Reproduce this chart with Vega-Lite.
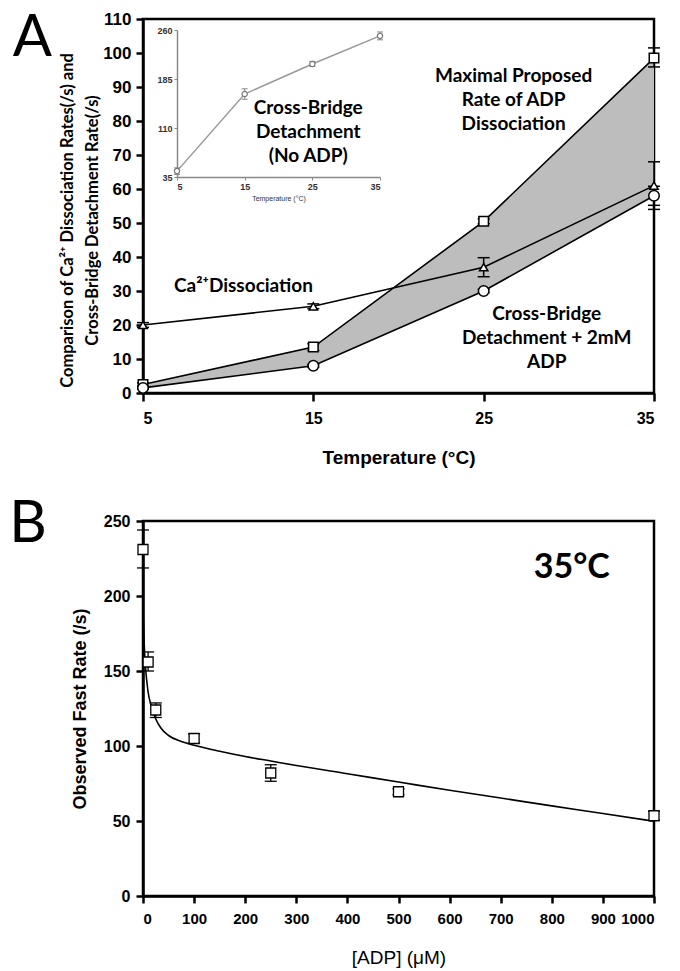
{
  "$schema": "https://vega.github.io/schema/vega-lite/v6.json",
  "padding": {"left": 8, "top": 8, "right": 5, "bottom": 5},
  "background": "white",
  "config": {
    "font": "Liberation Sans",
    "view": {"stroke": "black", "strokeWidth": 2.5},
    "axis": {
      "grid": false,
      "domainColor": "black",
      "domainWidth": 2.5,
      "tickColor": "black",
      "tickWidth": 2.5,
      "labelColor": "black",
      "titleColor": "black",
      "labelFont": "Liberation Sans",
      "labelFontWeight": "bold",
      "titleFont": "Liberation Sans"
    }
  },
  "datasets": {
    "a": [
      {"series": "ca", "t": 5, "v": 20, "lo": 19.3, "hi": 20.7},
      {"series": "ca", "t": 15, "v": 25.5, "lo": 24.8, "hi": 26.2},
      {"series": "ca", "t": 25, "v": 37, "lo": 34.2, "hi": 39.8},
      {"series": "ca", "t": 35, "v": 61, "lo": 54, "hi": 68},
      {"series": "max", "t": 5, "v": 2.5, "lo": 2, "hi": 3},
      {"series": "max", "t": 15, "v": 13.5, "lo": 12.5, "hi": 14.5},
      {"series": "max", "t": 25, "v": 50.5, "lo": 49.8, "hi": 51.2},
      {"series": "max", "t": 35, "v": 98.5, "lo": 95.9, "hi": 101.5},
      {"series": "cb", "t": 5, "v": 1.5, "lo": 1.2, "hi": 1.8},
      {"series": "cb", "t": 15, "v": 8, "lo": 7.6, "hi": 8.4},
      {"series": "cb", "t": 25, "v": 30, "lo": 29.5, "hi": 30.5},
      {"series": "cb", "t": 35, "v": 58, "lo": 55.2, "hi": 60.8}
    ],
    "inset": [
      {"t": 5, "v": 44, "lo": 39, "hi": 49},
      {"t": 15, "v": 162, "lo": 154, "hi": 170},
      {"t": 25, "v": 208, "lo": 204, "hi": 212},
      {"t": 35, "v": 251, "lo": 245, "hi": 257}
    ],
    "bpts": [
      {"x": 0, "y": 231, "lo": 218.7, "hi": 244},
      {"x": 10, "y": 156, "lo": 150, "hi": 162.7},
      {"x": 25, "y": 124, "lo": 119, "hi": 128.7},
      {"x": 100, "y": 105, "lo": 102, "hi": 108},
      {"x": 250, "y": 82, "lo": 76.5, "hi": 87.5},
      {"x": 500, "y": 69.5, "lo": 67.5, "hi": 71.5},
      {"x": 1000, "y": 53.5, "lo": 50.5, "hi": 56.5}
    ],
    "bfit": [
      {"x": 0, "y": 192},
      {"x": 1, "y": 180},
      {"x": 2, "y": 170.5},
      {"x": 3, "y": 163},
      {"x": 4, "y": 157},
      {"x": 6, "y": 148},
      {"x": 8, "y": 141.5},
      {"x": 10, "y": 136},
      {"x": 15, "y": 128},
      {"x": 20, "y": 122.5},
      {"x": 25, "y": 118},
      {"x": 35, "y": 112},
      {"x": 50, "y": 107},
      {"x": 75, "y": 103},
      {"x": 100, "y": 100.5},
      {"x": 150, "y": 96.5},
      {"x": 200, "y": 93},
      {"x": 250, "y": 90},
      {"x": 300, "y": 87},
      {"x": 400, "y": 81.5},
      {"x": 500, "y": 76},
      {"x": 600, "y": 70.5},
      {"x": 700, "y": 65.3},
      {"x": 800, "y": 60.1},
      {"x": 900, "y": 55},
      {"x": 1000, "y": 49.8}
    ]
  },
  "spacing": 128,
  "bounds": "flush",
  "vconcat": [
    {
      "width": 511,
      "height": 374,
      "resolve": {
        "scale": {"x": "independent", "y": "independent"},
        "axis": {"x": "independent", "y": "independent"}
      },
      "layer": [
        {
          "encoding": {
            "x": {
              "field": "t", "type": "quantitative",
              "scale": {"domain": [5, 35], "nice": false, "zero": false},
              "axis": {
                "orient": "bottom",
                "values": [5, 15, 25, 35],
                "tickSize": 8,
                "labelFontSize": 16,
                "labelPadding": 9,
                "title": "Temperature (°C)",
                "titleFontSize": 19,
                "titleFontWeight": "bold",
                "titlePadding": 22
              }
            },
            "y": {
              "field": "v", "type": "quantitative",
              "scale": {"domain": [0, 110], "nice": false},
              "axis": {
                "orient": "left",
                "values": [0, 10, 20, 30, 40, 50, 60, 70, 80, 90, 100, 110],
                "tickSize": 7,
                "labelFontSize": 17,
                "labelPadding": 5,
                "title": ["Comparison of Ca²⁺ Dissociation Rates(/s) and", "Cross-Bridge Detachment Rate(/s)"],
                "titleFont": "Lato",
                "titleFontSize": 16.5,
                "titleFontWeight": "bold",
                "titleLineHeight": 25,
                "titlePadding": 2,
                "titleY": 201
              }
            }
          },
          "layer": [
            {
              "data": {"name": "a"},
              "transform": [{"pivot": "series", "value": "v", "groupby": ["t"]}],
              "mark": {"type": "area", "color": "#bdbdbd"},
              "encoding": {
                "y": {"field": "max", "type": "quantitative"},
                "y2": {"field": "cb"}
              }
            },
            {
              "data": {"name": "a"},
              "mark": {"type": "line", "color": "black", "strokeWidth": 1.6},
              "encoding": {"detail": {"field": "series"}}
            },
            {
              "data": {"name": "a"},
              "mark": {"type": "rule", "color": "black", "strokeWidth": 1.5},
              "encoding": {
                "y": {"field": "lo", "type": "quantitative"},
                "y2": {"field": "hi"}
              }
            },
            {
              "data": {"name": "a"},
              "mark": {"type": "point", "shape": "M-1,0L1,0", "size": 144, "stroke": "black", "strokeWidth": 1.5, "opacity": 1},
              "encoding": {"y": {"field": "lo", "type": "quantitative"}}
            },
            {
              "data": {"name": "a"},
              "mark": {"type": "point", "shape": "M-1,0L1,0", "size": 144, "stroke": "black", "strokeWidth": 1.5, "opacity": 1},
              "encoding": {"y": {"field": "hi", "type": "quantitative"}}
            },
            {
              "data": {"name": "a"},
              "mark": {"type": "point", "filled": true, "fill": "white", "stroke": "black", "strokeWidth": 1.5, "opacity": 1, "clip": false},
              "encoding": {
                "shape": {
                  "field": "series", "type": "nominal",
                  "scale": {"domain": ["ca", "max", "cb"], "range": ["triangle-up", "square", "circle"]},
                  "legend": null
                },
                "size": {
                  "field": "series", "type": "nominal",
                  "scale": {"domain": ["ca", "max", "cb"], "range": [70, 110, 90]},
                  "legend": null
                }
              }
            },
            {
              "data": {"values": [
                {"t": 26.76, "v": 93.2, "label": "Maximal Proposed\nRate of ADP\nDissociation"},
                {"t": 10.9, "v": 31.6, "label": "Ca²⁺Dissociation"},
                {"t": 28.7, "v": 23.3, "label": "Cross-Bridge\nDetachment + 2mM\nADP"},
                {"t": 14.7, "v": 83.8, "label": "Cross-Bridge\nDetachment\n(No ADP)"}
              ]},
              "mark": {"type": "text", "font": "Lato", "fontWeight": "bold", "fontSize": 19, "lineBreak": "\n", "lineHeight": 24, "align": "center", "baseline": "middle", "color": "black"},
              "encoding": {"text": {"field": "label"}}
            },
            {
              "data": {"values": [{"t": -1.5, "v": 99.1, "label": "A"}]},
              "mark": {"type": "text", "font": "Lato", "fontSize": 58, "align": "center", "baseline": "alphabetic", "color": "black", "clip": false},
              "encoding": {"text": {"field": "label"}}
            }
          ]
        },
        {
          "data": {"name": "inset"},
          "encoding": {
            "x": {
              "field": "t", "type": "quantitative",
              "scale": {"domain": [5, 35], "range": [34, 237], "nice": false, "zero": false},
              "axis": {
                "orient": "bottom",
                "offset": -216,
                "values": [5, 15, 25, 35],
                "domainColor": "#888888",
                "domainWidth": 1.5,
                "tickColor": "#888888",
                "tickWidth": 1,
                "tickSize": 3,
                "labelFontSize": 9,
                "labelColor": "#333333",
                "labelPadding": 2,
                "title": "Temperature (°C)",
                "titleFontSize": 7,
                "titleFontWeight": "normal",
                "titleColor": "#333333",
                "titlePadding": 3
              }
            },
            "y": {
              "field": "v", "type": "quantitative",
              "scale": {"domain": [35, 260], "range": [158, 11], "nice": false, "zero": false},
              "axis": {
                "orient": "left",
                "offset": -34,
                "values": [35, 110, 185, 260],
                "domainColor": "#888888",
                "domainWidth": 1.5,
                "tickColor": "#888888",
                "tickWidth": 1,
                "tickSize": 3,
                "labelFontSize": 9,
                "labelColor": "#333333",
                "labelPadding": 2,
                "title": null
              }
            }
          },
          "layer": [
            {
              "data": {"values": [{}]},
              "mark": {"type": "rect", "filled": false, "stroke": "#888888", "strokeWidth": 1.5},
              "encoding": {
                "x": {"datum": 5, "type": "quantitative"},
                "x2": {"datum": 35},
                "y": {"datum": 35, "type": "quantitative"},
                "y2": {"datum": 260}
              }
            },
            {
              "mark": {"type": "line", "color": "#999999", "strokeWidth": 1.5}
            },
            {
              "mark": {"type": "rule", "color": "#888888", "strokeWidth": 1},
              "encoding": {
                "y": {"field": "lo", "type": "quantitative"},
                "y2": {"field": "hi"}
              }
            },
            {
              "mark": {"type": "point", "shape": "M-1,0L1,0", "size": 36, "stroke": "#888888", "strokeWidth": 1, "opacity": 1},
              "encoding": {"y": {"field": "lo", "type": "quantitative"}}
            },
            {
              "mark": {"type": "point", "shape": "M-1,0L1,0", "size": 36, "stroke": "#888888", "strokeWidth": 1, "opacity": 1},
              "encoding": {"y": {"field": "hi", "type": "quantitative"}}
            },
            {
              "mark": {"type": "point", "shape": "circle", "size": 28, "filled": true, "fill": "white", "stroke": "#777777", "strokeWidth": 1.2, "opacity": 1}
            }
          ]
        }
      ]
    },
    {
      "width": 511,
      "height": 375,
      "encoding": {
        "x": {
          "field": "x", "type": "quantitative",
          "scale": {"domain": [0, 1000], "nice": false},
          "axis": {
            "values": [0, 100, 200, 300, 400, 500, 600, 700, 800, 900, 1000],
            "format": "d",
            "tickSize": 7,
            "labelFontSize": 15,
            "labelPadding": 8,
            "title": "[ADP] (μM)",
            "titleFontSize": 19,
            "titleFontWeight": "normal",
            "titlePadding": 22
          }
        },
        "y": {
          "field": "y", "type": "quantitative",
          "scale": {"domain": [0, 250], "nice": false},
          "axis": {
            "values": [0, 50, 100, 150, 200, 250],
            "tickSize": 7,
            "labelFontSize": 16,
            "labelPadding": 6,
            "title": "Observed Fast Rate (/s)",
            "titleFontSize": 18,
            "titleFontWeight": "bold",
            "titlePadding": 14
          }
        }
      },
      "layer": [
        {
          "data": {"name": "bfit"},
          "mark": {"type": "line", "color": "black", "strokeWidth": 1.6, "interpolate": "monotone"}
        },
        {
          "data": {"name": "bpts"},
          "mark": {"type": "rule", "color": "black", "strokeWidth": 1.3},
          "encoding": {
            "y": {"field": "lo", "type": "quantitative"},
            "y2": {"field": "hi"}
          }
        },
        {
          "data": {"name": "bpts"},
          "mark": {"type": "point", "shape": "M-1,0L1,0", "size": 144, "stroke": "black", "strokeWidth": 1.3, "opacity": 1},
          "encoding": {"y": {"field": "lo", "type": "quantitative"}}
        },
        {
          "data": {"name": "bpts"},
          "mark": {"type": "point", "shape": "M-1,0L1,0", "size": 144, "stroke": "black", "strokeWidth": 1.3, "opacity": 1},
          "encoding": {"y": {"field": "hi", "type": "quantitative"}}
        },
        {
          "data": {"name": "bpts"},
          "mark": {"type": "point", "shape": "square", "size": 100, "filled": true, "fill": "white", "stroke": "black", "strokeWidth": 1.3, "opacity": 1, "clip": false}
        },
        {
          "data": {"values": [{"x": 839, "y": 219, "label": "35°C"}]},
          "mark": {"type": "text", "font": "Lato", "fontWeight": "bold", "fontSize": 34, "align": "center", "baseline": "middle", "color": "black"},
          "encoding": {"text": {"field": "label"}}
        },
        {
          "data": {"values": [{"x": -225, "y": 236, "label": "B"}]},
          "mark": {"type": "text", "font": "Lato", "fontSize": 58, "align": "center", "baseline": "alphabetic", "color": "black", "clip": false},
          "encoding": {"text": {"field": "label"}}
        }
      ]
    }
  ]
}
